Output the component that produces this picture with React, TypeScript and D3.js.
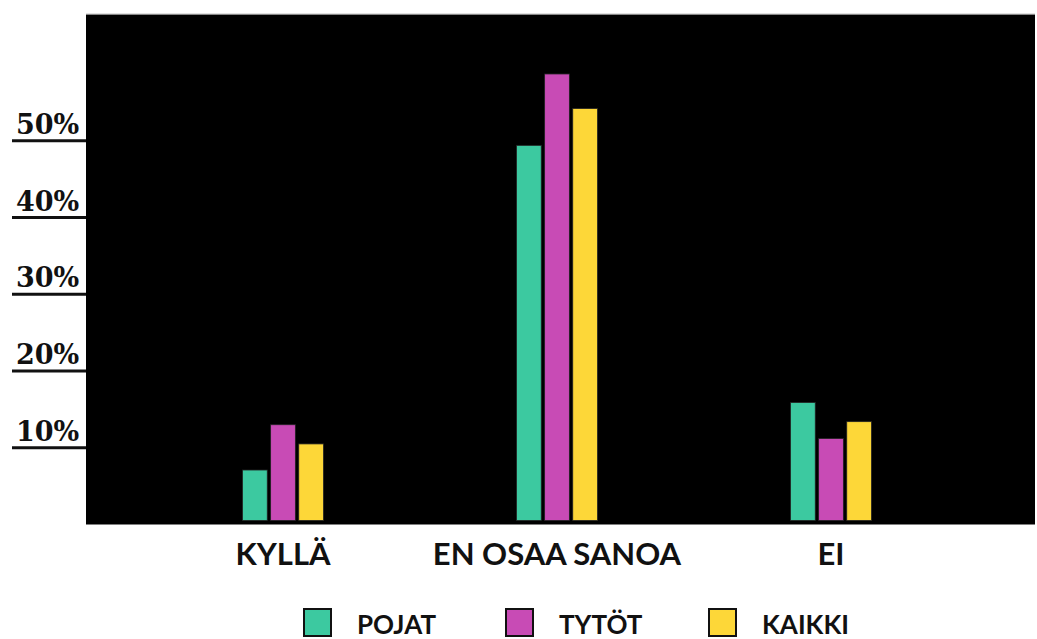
import React from "react";
import * as d3 from "d3";

// Survey answers per category, in percent
const categories = ["KYLLÄ", "EN OSAA SANOA", "EI"];
const seriesNames = ["POJAT", "TYTÖT", "KAIKKI"];
const pojat = [7.1, 49.4, 15.9];
const tytot = [13.0, 58.7, 11.2];
const kaikki = [10.5, 54.2, 13.4];
const seriesValues = [pojat, tytot, kaikki];
const seriesColors = ["#3cc9a0", "#c84bb5", "#fdd738"];
const yTicks = [10, 20, 30, 40, 50];

const W = 1037;
const H = 639;
const plot = { left: 86, right: 1035, top: 15, bottom: 524.5 };

export default function App() {
  const y = d3.scaleLinear().domain([0, 10]).range([plot.bottom, plot.bottom - 76.75]);
  const x0 = d3.scaleBand<string>().domain(categories).range([146, 968]).padding(0);
  const groupW = 81;
  const x1 = d3.scaleBand<string>().domain(seriesNames).range([0, groupW]).paddingInner(0.12);
  const baseGap = 4;

  const legendX = [303, 505, 708];

  return (
    <svg
      width={W}
      height={H}
      style={{ position: "absolute", left: 0, top: 0, background: "#fff" }}
    >
      {/* plot area */}
      <line x1={plot.left} x2={plot.right} y1={plot.top - 0.5} y2={plot.top - 0.5} stroke="#888" strokeWidth={1.5} />
      <rect
        x={plot.left}
        y={plot.top}
        width={plot.right - plot.left}
        height={plot.bottom - plot.top}
        fill="#000"
      />

      {/* y ticks: label with underline */}
      {yTicks.map((t) => (
        <g key={t}>
          <line x1={12} x2={plot.left} y1={y(t)} y2={y(t)} stroke="#111" strokeWidth={3} />
          <text
            x={16}
            y={y(t) - 7}
            fontFamily="'DejaVu Serif', serif"
            fontWeight="bold"
            fontSize={27}
            fill="#111"
          >
            {t}%
          </text>
        </g>
      ))}

      {/* bars */}
      {categories.map((c, ci) => {
        const gx = (x0(c) as number) + x0.bandwidth() / 2 - groupW / 2;
        return (
          <g key={c}>
            {seriesNames.map((s, si) => {
              const v = seriesValues[si][ci];
              const top = y(v);
              return (
                <rect
                  key={s}
                  x={gx + (x1(s) as number)}
                  y={top}
                  width={x1.bandwidth()}
                  height={y(0) - baseGap - top}
                  fill={seriesColors[si]}
                  stroke="#222"
                  strokeWidth={0.8}
                />
              );
            })}
            <text
              x={(x0(c) as number) + x0.bandwidth() / 2}
              y={565}
              textAnchor="middle"
              fontFamily="Lato, sans-serif"
              fontWeight="bold"
              fontSize={31}
              fill="#111"
            >
              {c}
            </text>
          </g>
        );
      })}

      {/* legend */}
      {seriesNames.map((s, si) => (
        <g key={s}>
          <rect
            x={legendX[si] + 1}
            y={609}
            width={27}
            height={27}
            fill={seriesColors[si]}
            stroke="#111"
            strokeWidth={2}
          />
          <text
            x={legendX[si] + 54}
            y={634}
            fontFamily="Lato, sans-serif"
            fontWeight="bold"
            fontSize={26}
            fill="#111"
          >
            {s}
          </text>
        </g>
      ))}
    </svg>
  );
}
